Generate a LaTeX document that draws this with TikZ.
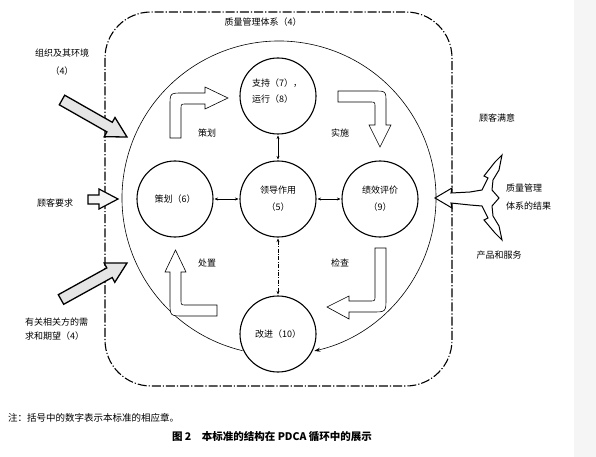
\documentclass[tikz,border=0pt]{standalone}
\usepackage{fontspec}
\setmainfont{Noto Sans CJK SC}
\usetikzlibrary{arrows.meta}
\begin{document}
\begin{tikzpicture}[x=1pt,y=-1pt,
  lbl/.style={font=\fontsize{9}{16}\selectfont, inner sep=0pt},
  stage/.style={circle, draw, line width=1.1pt, minimum size=76pt, inner sep=0pt, fill=white, font=\fontsize{9}{17}\selectfont, align=center},
  link/.style={{Stealth[length=3.5pt,width=3pt]}-{Stealth[length=3.5pt,width=3pt]}, line width=0.5pt, shorten <=1pt, shorten >=1pt},
  hollow/.style={draw, line width=0.6pt, fill=white},
  shaded/.style={draw, line width=1.3pt, fill=gray!20},
  qmsframe/.style={draw, line width=1.1pt, dash pattern=on 9pt off 2pt on 1.2pt off 2pt, rounded corners=46pt}
]
\useasboundingbox (0,0) rectangle (596,457);
\fill[white] (0,0) rectangle (596,457);
\fill[black!4] (574,0) rectangle (596,457);

% quality management system frame
\draw[qmsframe] (105,12) rectangle (452,386);
\node[lbl] (qms) at (263,22) {质量管理体系（4）};

% PDCA big cycle
\coordinate (pc) at (279,198);
\draw[line width=0.6pt, -{Stealth[length=6pt,width=4pt]}] (pc) ++(103.4:157) arc[start angle=103.4, end angle=437, radius=157];

% stages
\node[stage] (support) at (278,96) {};
\node[lbl, align=left] (supporttxt) at (277,91) {支持（7），\\运行（8）};
\node[stage] (plan6) at (175,199) {策划（6）};
\node[stage] (lead) at (278,199) {领导作用\\（5）};
\node[stage] (perf) at (380,199) {绩效评价\\（9）};
\node[stage] (impr) at (278,334) {改进（10）};

\draw[link] (plan6) -- (lead);
\draw[link] (lead) -- (perf);
\draw[link] (support) -- (lead);
\draw[link, dash pattern=on 4pt off 1.5pt on 0.8pt off 1.5pt] (lead) -- (impr);

% hollow PDCA arrows
\draw[hollow] (170,138) -- (170,106) .. controls (170,93) .. (183,93) -- (205,93) -- (205,87) -- (228,98) -- (205,109) -- (205,104) -- (186,104) .. controls (181,104) .. (181,109) -- (181,138) -- cycle;
\draw[hollow] (338,91) -- (374,91) .. controls (386,91) .. (386,103) -- (386,125) -- (391,125) -- (380,147) -- (369,125) -- (375,125) -- (375,107) .. controls (375,102) .. (370,102) -- (338,102) -- cycle;
\draw[hollow] (375,248) -- (386,248) -- (386,298) .. controls (386,312) .. (372,312) -- (349,312) -- (349,319) -- (327,307) -- (349,296) -- (349,301) -- (370,301) .. controls (375,301) .. (375,296) -- cycle;
\draw[hollow] (217,305) -- (186,305) .. controls (181,305) .. (181,300) -- (181,272) -- (186,272) -- (175.5,250) -- (165,272) -- (170,272) -- (170,302) .. controls (170,316) .. (184,316) -- (217,316) -- cycle;

\node[lbl] (lplan) at (207,133) {策划};
\node[lbl] (ldo) at (340,133) {实施};
\node[lbl] (lact) at (207,263) {处置};
\node[lbl] (lcheck) at (340,263) {检查};

% inputs
\node[lbl, align=center, font=\fontsize{9}{18}\selectfont] (env) at (62,62) {组织及其环境\\（4）};
\draw[shaded] (64.7,95.2) -- (112.3,122.3) -- (115.0,117.5) -- (127,137) -- (104.2,136.7) -- (106.9,131.9) -- (59.3,104.8) -- cycle;

\node[lbl] (creq) at (55,203) {顾客要求};
\draw[draw, line width=1.2pt, fill=gray!8] (88,195) -- (99,195) -- (99,189) -- (118,199) -- (99,209) -- (99,204) -- (88,204) -- cycle;

\draw[shaded] (58.3,294.7) -- (106.8,267.9) -- (104.2,263.1) -- (127,263) -- (114.8,282.3) -- (112.2,277.5) -- (63.7,304.3) -- cycle;
\node[lbl, align=left, anchor=west, font=\fontsize{9}{14}\selectfont] (iparty) at (25,329) {有关相关方的需\\求和期望（4）};

% outputs
\node[lbl] (csat) at (497,118) {顾客满意};
\draw[line width=1pt, fill=white] (435,198) -- (452,188) -- (451,193) -- (470,192) -- (482,190) -- (488,178) -- (484,176) -- (495,162) -- (502,155) -- (499,170) -- (493,180) -- (492,190) -- (499,198) -- (492,206) -- (493,216) -- (499,226) -- (502,240) -- (495,233) -- (484,220) -- (488,218) -- (482,206) -- (470,205) -- (451,203) -- (452,208) -- cycle;
\node[lbl, align=left, anchor=west, font=\fontsize{9}{18}\selectfont] (res) at (506,197) {质量管理\\体系的结果};
\node[lbl] (prod) at (499,255) {产品和服务};

% note and caption
\node[lbl, anchor=west, font=\fontsize{9.5}{12}\selectfont] (note) at (8,418) {注：括号中的数字表示本标准的相应章。};
\node[inner sep=0pt, font=\fontsize{10.5}{12}\selectfont\bfseries] (caption) at (272,437) {图 2\hspace{1em}本标准的结构在 PDCA 循环中的展示};
\end{tikzpicture}
\end{document}
